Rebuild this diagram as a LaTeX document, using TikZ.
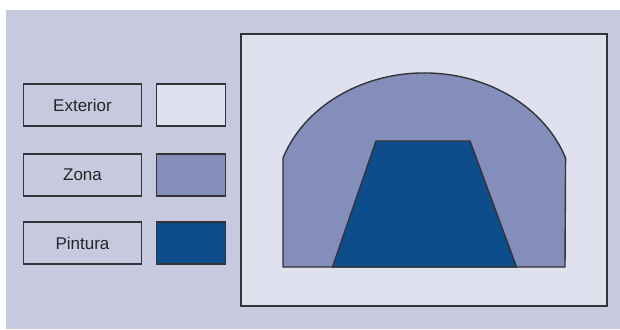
\documentclass[tikz,border=0pt]{standalone}
\usepackage{fontspec}
\setmainfont{Liberation Sans}
\definecolor{panel}{HTML}{C7C9DF}
\definecolor{exterior}{HTML}{E0E1EE}
\definecolor{zona}{HTML}{838EBB}
\definecolor{pintura}{HTML}{0E4D8C}
\definecolor{edge}{HTML}{333338}
\begin{document}
\begin{tikzpicture}[x=1pt,y=-1pt,
  outline/.style={draw=edge,line width=1.4pt},
  labelbox/.style={outline,minimum width=118pt,minimum height=42pt,inner sep=0pt,font=\fontsize{17}{20}\selectfont,text=black!85},
  swatch/.style={outline,minimum width=68.5pt,minimum height=42pt,inner sep=0pt}]
\useasboundingbox (0,0) rectangle (620,329);
\fill[white] (0,0) rectangle (620,329);
\fill[panel] (6,10) rectangle (620,329);
% legend
\node[labelbox] (lext) at (82.5,105) {Exterior};
\node[labelbox] (lzon) at (82.5,175) {Zona};
\node[labelbox] (lpin) at (82.5,243) {Pintura};
\node[swatch,fill=exterior] (sext) at (191,105) {};
\node[swatch,fill=zona] (szon) at (191,175) {};
\node[swatch,fill=pintura] (spin) at (191,243) {};
% picture
\draw[outline,fill=exterior] (241,34) rectangle (607,306);
\draw[outline,fill=zona] (283,267) -- (283,158)
  arc[start angle=160.7,end angle=19.3,x radius=149.7,y radius=-127] -- (565,267) -- cycle;
\draw[outline,fill=pintura] (332.5,267) -- (376,141) -- (470,141) -- (516.5,267) -- cycle;
\end{tikzpicture}
\end{document}
